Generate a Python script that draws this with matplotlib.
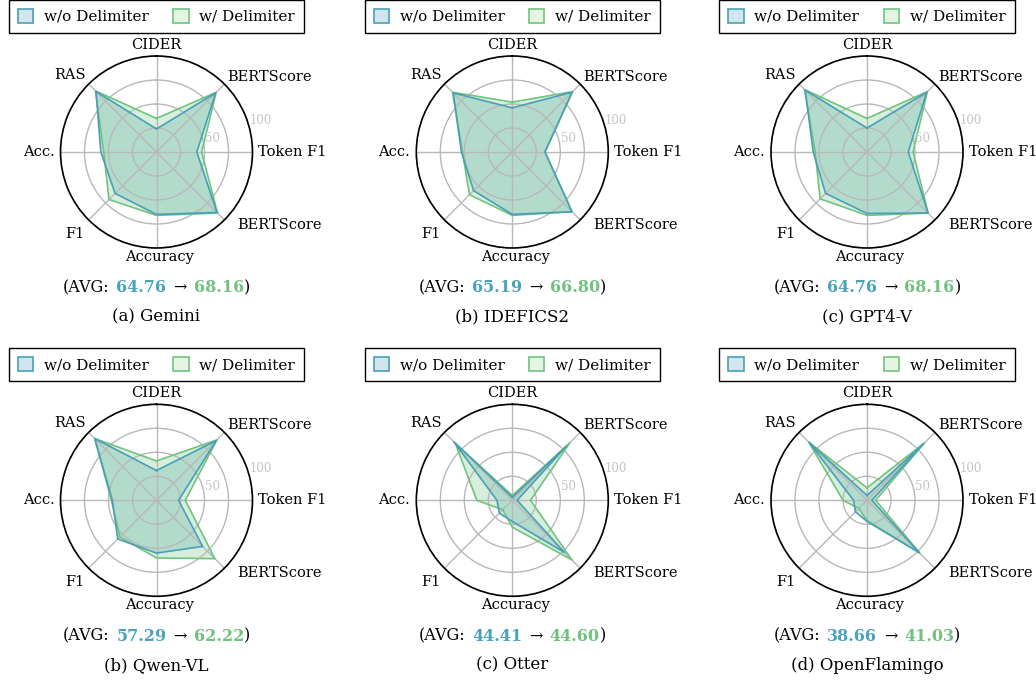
import numpy as np
import matplotlib.pyplot as plt
from matplotlib.patches import Patch
from matplotlib.offsetbox import TextArea, HPacker, AnnotationBbox

plt.rcParams['font.family'] = ['DejaVu Serif', 'DejaVu Sans']

metrics = ['CIDER', 'BERTScore', 'Token F1', 'BERTScore', 'Accuracy', 'F1', 'Acc.', 'RAS']

captions = ['(a) Gemini', '(b) IDEFICS2', '(c) GPT4-V',
            '(b) Qwen-VL', '(c) Otter', '(d) OpenFlamingo']
avg_wo = ['64.76', '65.19', '64.76', '57.29', '44.41', '38.66']
avg_w = ['68.16', '66.80', '68.16', '62.22', '44.60', '41.03']

# scores per metric, clockwise from CIDER
gemini_wo = [24, 87, 42, 89, 65, 61, 58, 89]
gemini_w = [35, 88, 47, 90, 66, 70, 55, 90]
idefics_wo = [46, 88, 34, 88, 65, 57, 53, 87]
idefics_w = [52, 89, 34, 88, 66, 63, 52, 88]
gpt4v_wo = [25, 88, 43, 90, 64, 61, 56, 91]
gpt4v_w = [35, 89, 48, 90, 66, 69, 54, 92]
qwen_wo = [31, 88, 23, 68, 55, 57, 46, 91]
qwen_w = [41, 89, 30, 86, 60, 54, 47, 91]
otter_wo = [3, 80, 5, 77, 22, 19, 16, 86]
otter_w = [5, 85, 19, 88, 28, 14, 37, 84]
flamingo_wo = [5, 83, 5, 77, 22, 17, 14, 85]
flamingo_w = [13, 85, 9, 78, 21, 12, 25, 86]

series_wo = [gemini_wo, idefics_wo, gpt4v_wo, qwen_wo, otter_wo, flamingo_wo]
series_w = [gemini_w, idefics_w, gpt4v_w, qwen_w, otter_w, flamingo_w]

rings = [25, 50, 75, 100]
ring_labels = ['', '50', '', '100']

BLUE = '#4a9fb8'
GREEN = '#6fc47e'
BLUE_TXT = '#4aa3bd'
GREEN_TXT = '#72c17f'

# label offsets in pixels from the outer ring, with alignment
label_pos = [((0, 11), 'center'),
             ((3, 7), 'left'),
             ((6, 0), 'left'),
             ((13, -5), 'left'),
             ((3, -9), 'center'),
             ((-4, -14), 'right'),
             ((-6, 0), 'right'),
             ((-3, 9), 'right')]


def radar(ax, wo, w, caption, a_wo, a_w):
    angles = np.linspace(0, 2 * np.pi, len(metrics), endpoint=False)
    ang = np.concatenate([angles, angles[:1]])
    v_wo = np.concatenate([wo, wo[:1]])
    v_w = np.concatenate([w, w[:1]])

    ax.set_theta_zero_location('N')
    ax.set_theta_direction(-1)
    ax.set_ylim(0, 100)

    ax.fill(ang, v_wo, color=BLUE, alpha=0.28, lw=0)
    ax.fill(ang, v_w, color=GREEN, alpha=0.28, lw=0)
    ax.plot(ang, v_w, color=GREEN, lw=1.2)
    ax.plot(ang, v_wo, color=BLUE, lw=1.2)

    ax.set_xticks(angles)
    ax.set_xticklabels([])
    ax.set_yticks(rings)
    ax.set_yticklabels([])
    ax.grid(color='#b8b8b8', lw=1.0)
    ax.spines['polar'].set_linewidth(1.2)
    ax.tick_params(axis='x', length=0)

    # ring values, left of the 22.5 deg line above Token F1
    for r, s in zip(rings, ring_labels):
        if s:
            ax.annotate(s, xy=(np.deg2rad(67.5), r), xytext=(4, -5),
                        textcoords='offset pixels', ha='left', va='center',
                        fontsize=8.5, color='#c4c4c4', annotation_clip=False)

    for a, name, (off, ha) in zip(angles, metrics, label_pos):
        ax.annotate(name, xy=(a, 100), xytext=off, textcoords='offset pixels',
                    ha=ha, va='center', fontsize=10.5, annotation_clip=False)

    handles = [Patch(facecolor='#d0e6ec', edgecolor=BLUE, lw=1.2, label='w/o Delimiter'),
               Patch(facecolor='#e6f4e4', edgecolor=GREEN, lw=1.2, label='w/ Delimiter')]
    leg = ax.legend(handles=handles, loc='center', bbox_to_anchor=(0.5, 1.206), ncol=2,
                    fontsize=11, fancybox=False, edgecolor='black', framealpha=1,
                    handlelength=1.0, handleheight=1.0, handletextpad=0.7,
                    columnspacing=1.6, borderpad=0.6)
    leg.get_frame().set_linewidth(1.0)

    fs = 11.5
    parts = [TextArea('(AVG:', textprops=dict(fontsize=fs)),
             TextArea(a_wo, textprops=dict(fontsize=fs, color=BLUE_TXT, weight='bold')),
             TextArea('→', textprops=dict(fontsize=fs)),
             HPacker(children=[TextArea(a_w, textprops=dict(fontsize=fs, color=GREEN_TXT,
                                                             weight='bold')),
                               TextArea(')', textprops=dict(fontsize=fs))],
                     pad=0, sep=0)]
    box = HPacker(children=parts, pad=0, sep=5, align='baseline')
    ab = AnnotationBbox(box, (0.5, -0.208), xycoords='axes fraction',
                        box_alignment=(0.5, 0.5), frameon=False, annotation_clip=False)
    ax.add_artist(ab)
    ax.text(0.5, -0.359, caption, transform=ax.transAxes, ha='center', va='center',
            fontsize=12)


fig = plt.figure(figsize=(10.36, 6.8), dpi=100)
W, H = 1036, 680
R = 96
centers_x = [156.5, 512.3, 867.0]
centers_y = [152.0, 500.3]

k = 0
for cy in centers_y:
    for cx in centers_x:
        ax = fig.add_axes([(cx - R) / W, (H - cy - R) / H, 2 * R / W, 2 * R / H], polar=True)
        radar(ax, series_wo[k], series_w[k], captions[k], avg_wo[k], avg_w[k])
        k += 1

fig.savefig('out.png', dpi=100)
